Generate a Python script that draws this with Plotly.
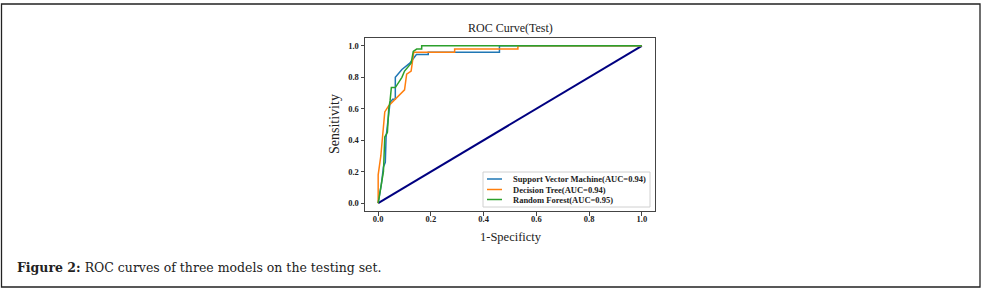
import plotly.graph_objects as go

# ---- data ----
svm_fpr = [0.0, 0.012, 0.02, 0.027, 0.03, 0.04, 0.045, 0.055, 0.065, 0.065, 0.09, 0.12, 0.145, 0.19, 0.19, 0.46, 0.46, 1.0]
svm_tpr = [0.0, 0.12, 0.23, 0.26, 0.42, 0.60, 0.64, 0.66, 0.66, 0.80, 0.85, 0.89, 0.945, 0.945, 0.96, 0.96, 1.0, 1.0]

dt_fpr = [0.0, 0.0, 0.01, 0.025, 0.04, 0.07, 0.10, 0.108, 0.125, 0.135, 0.29, 0.29, 0.53, 0.53, 1.0]
dt_tpr = [0.0, 0.18, 0.30, 0.58, 0.62, 0.67, 0.72, 0.82, 0.84, 0.96, 0.96, 0.98, 0.98, 1.0, 1.0]

rf_fpr = [0.0, 0.01, 0.02, 0.025, 0.035, 0.04, 0.045, 0.05, 0.065, 0.09, 0.10, 0.125, 0.133, 0.146, 0.165, 0.165, 1.0]
rf_tpr = [0.0, 0.10, 0.20, 0.42, 0.45, 0.60, 0.65, 0.735, 0.735, 0.80, 0.84, 0.89, 0.965, 0.98, 0.98, 1.0, 1.0]

chance_x = [0.0, 1.0]
chance_y = [0.0, 1.0]

series_names = ["Support Vector Machine(AUC=0.94)", "Decision Tree(AUC=0.94)", "Random Forest(AUC=0.95)"]
series_colors = ["#1f77b4", "#ff7f0e", "#2ca02c"]
tick_vals = [0.0, 0.2, 0.4, 0.6, 0.8, 1.0]

title_text = "ROC Curve(Test)"
x_title = "1-Specificty"
y_title = "Sensitivity"
caption = "<b>Figure 2:</b> ROC curves of three models on the testing set."

# ---- geometry (pixels) ----
W, H = 983, 291
L, R, T, B = 365, 655, 38, 211
pw, ph = R - L, B - T


def px(x):
    return (x - L) / pw


def py(y):
    return (B - y) / ph


serif = "Liberation Serif, Times New Roman, serif"

fig = go.Figure()
fig.add_trace(go.Scatter(x=chance_x, y=chance_y, mode="lines",
                         line=dict(color="navy", width=2), showlegend=False, hoverinfo="skip"))
for xs, ys, name, col in [(svm_fpr, svm_tpr, series_names[0], series_colors[0]),
                          (dt_fpr, dt_tpr, series_names[1], series_colors[1]),
                          (rf_fpr, rf_tpr, series_names[2], series_colors[2])]:
    fig.add_trace(go.Scatter(x=xs, y=ys, mode="lines", name=name,
                             line=dict(color=col, width=1.5), showlegend=False))

axis_common = dict(range=[-0.05, 1.05], tickvals=tick_vals, tickformat=".1f",
                   showgrid=False, zeroline=False, showline=True, mirror=True,
                   linecolor="#444", linewidth=1, ticks="outside", ticklen=3.5,
                   tickwidth=1, tickcolor="#444",
                   tickfont=dict(family=serif, size=8.5, color="#222", weight="bold"))

fig.update_layout(
    width=W, height=H, autosize=False,
    margin=dict(l=L, r=W - R, t=T, b=H - B, pad=0),
    paper_bgcolor="white", plot_bgcolor="white",
    xaxis=dict(**axis_common, ticklabelstandoff=-4),
    yaxis=dict(**axis_common),
    showlegend=False,
)

shapes = []
annots = []
# outer frame
shapes.append(dict(type="rect", xref="paper", yref="paper",
                   x0=px(1.5), x1=px(980), y0=py(287), y1=py(4),
                   line=dict(color="#222", width=1.3), fillcolor="rgba(0,0,0,0)", layer="below"))
# legend box
shapes.append(dict(type="rect", xref="paper", yref="paper",
                   x0=px(483), x1=px(650), y0=py(207), y1=py(172),
                   line=dict(color="#d0d0d0", width=1), fillcolor="white", layer="above"))
leg_y = [179, 189.5, 199.5]
for name, col, yy in zip(series_names, series_colors, leg_y):
    shapes.append(dict(type="line", xref="paper", yref="paper",
                       x0=px(487), x1=px(502), y0=py(yy), y1=py(yy),
                       line=dict(color=col, width=1.5), layer="above"))
    annots.append(dict(text=name, xref="paper", yref="paper", x=px(511), y=py(yy),
                       xanchor="left", yanchor="middle", showarrow=False,
                       font=dict(family=serif, size=8.5, color="#222", weight="bold")))

annots.append(dict(text=title_text, xref="paper", yref="paper", x=px(510), y=py(28),
                   xanchor="center", yanchor="middle", showarrow=False,
                   font=dict(family=serif, size=12, color="#222")))
annots.append(dict(text=x_title, xref="paper", yref="paper", x=px(510.5), y=py(237),
                   xanchor="center", yanchor="middle", showarrow=False,
                   font=dict(family=serif, size=12.5, color="#222")))
annots.append(dict(text=y_title, xref="paper", yref="paper", x=px(334), y=py(124),
                   xanchor="center", yanchor="middle", showarrow=False, textangle=-90,
                   font=dict(family=serif, size=14, color="#222")))
annots.append(dict(text=caption, xref="paper", yref="paper", x=px(15), y=py(267),
                   xanchor="left", yanchor="middle", showarrow=False,
                   font=dict(family="DejaVu Serif, serif", size=12.5, color="#222")))

fig.update_layout(shapes=shapes, annotations=annots)
fig.write_html("out.html", config={"displayModeBar": False},
               post_script="document.body.style.margin='0';document.body.style.padding='0';")
